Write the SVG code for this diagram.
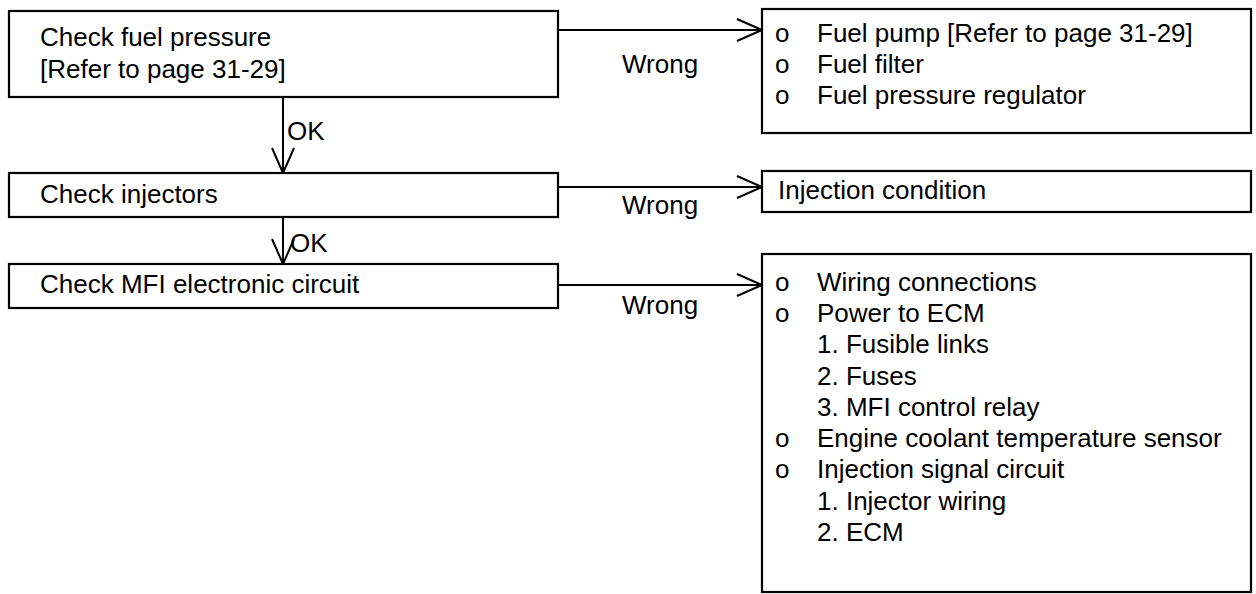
<svg xmlns="http://www.w3.org/2000/svg" width="1256" height="594" viewBox="0 0 1256 594">
<style>
  .box { fill: #ffffff; stroke: #000000; stroke-width: 2.2; }
  .t { font-family: "Liberation Sans", Arial, sans-serif; font-size: 26px; fill: #000000; }
  .conn { stroke: #000000; stroke-width: 2; fill: none; }
</style>
<defs>
  <marker id="vee" markerUnits="userSpaceOnUse" markerWidth="28" markerHeight="26" viewBox="0 0 28 26" refX="26" refY="12" orient="auto">
    <path d="M1,1 L26,12 L1,23" fill="none" stroke="#000000" stroke-width="2"/>
  </marker>
</defs>
<rect width="1256" height="594" fill="#ffffff"/>

<g id="connectors">
  <line class="conn" x1="283" y1="97" x2="283" y2="173" marker-end="url(#vee)"/>
  <line class="conn" x1="283" y1="217" x2="283" y2="264" marker-end="url(#vee)"/>
  <line class="conn" x1="558" y1="30" x2="762" y2="30" marker-end="url(#vee)"/>
  <line class="conn" x1="558" y1="187" x2="762" y2="187" marker-end="url(#vee)"/>
  <line class="conn" x1="558" y1="285" x2="762" y2="285" marker-end="url(#vee)"/>
  <text class="t" x="287" y="140">OK</text>
  <text class="t" x="290" y="252">OK</text>
  <text class="t" x="622" y="73">Wrong</text>
  <text class="t" x="622" y="214">Wrong</text>
  <text class="t" x="622" y="314">Wrong</text>
</g>

<g id="check-fuel-pressure">
  <rect class="box" x="9" y="11" width="549" height="86"/>
  <text class="t" x="40" y="46">Check fuel pressure</text>
  <text class="t" x="40" y="78">[Refer to page 31-29]</text>
</g>

<g id="check-injectors">
  <rect class="box" x="9" y="173" width="549" height="44"/>
  <text class="t" x="40" y="203">Check injectors</text>
</g>

<g id="check-mfi">
  <rect class="box" x="9" y="264" width="549" height="44"/>
  <text class="t" x="40" y="293">Check MFI electronic circuit</text>
</g>

<g id="fuel-causes">
  <rect class="box" x="762" y="9" width="489" height="124"/>
  <text class="t" x="775" y="42">o</text>
  <text class="t" x="817" y="42">Fuel pump [Refer to page 31-29]</text>
  <text class="t" x="775" y="73">o</text>
  <text class="t" x="817" y="73">Fuel filter</text>
  <text class="t" x="775" y="104">o</text>
  <text class="t" x="817" y="104">Fuel pressure regulator</text>
</g>

<g id="injection-condition">
  <rect class="box" x="762" y="171" width="489" height="41"/>
  <text class="t" x="778" y="199">Injection condition</text>
</g>

<g id="circuit-causes">
  <rect class="box" x="762" y="254" width="489" height="338"/>
  <text class="t" x="775" y="291">o</text>
  <text class="t" x="817" y="291">Wiring connections</text>
  <text class="t" x="775" y="322">o</text>
  <text class="t" x="817" y="322">Power to ECM</text>
  <text class="t" x="817" y="353">1. Fusible links</text>
  <text class="t" x="817" y="385">2. Fuses</text>
  <text class="t" x="817" y="416">3. MFI control relay</text>
  <text class="t" x="775" y="447">o</text>
  <text class="t" x="817" y="447">Engine coolant temperature sensor</text>
  <text class="t" x="775" y="478">o</text>
  <text class="t" x="817" y="478">Injection signal circuit</text>
  <text class="t" x="817" y="510">1. Injector wiring</text>
  <text class="t" x="817" y="541">2. ECM</text>
</g>
</svg>
